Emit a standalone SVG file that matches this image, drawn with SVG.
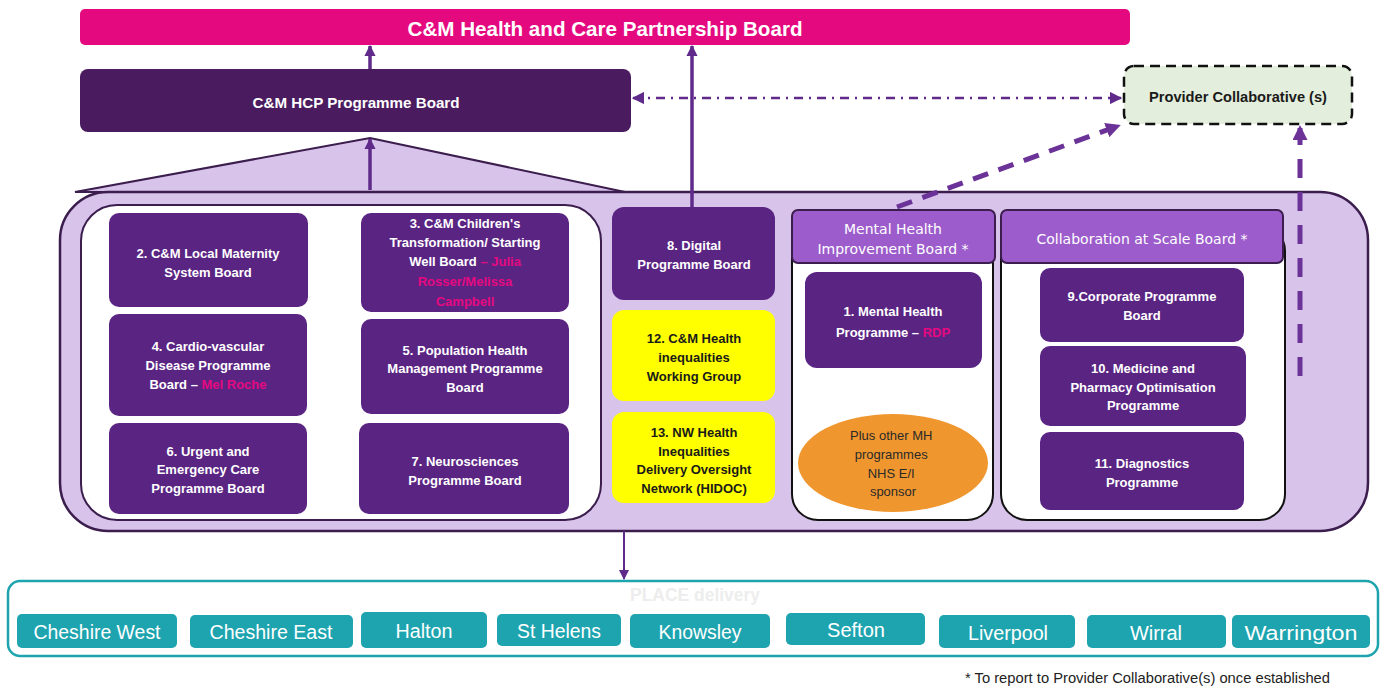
<svg xmlns="http://www.w3.org/2000/svg" width="1386" height="687" viewBox="0 0 1386 687">
  <defs>
    <marker id="arr" viewBox="0 0 10 10" refX="9" refY="5" markerWidth="3.2" markerHeight="3.2" orient="auto-start-reverse" markerUnits="strokeWidth">
      <path d="M0,0 L10,5 L0,10 z" fill="#5F2A8A"/>
    </marker>
    <marker id="arrThin" viewBox="0 0 10 10" refX="9" refY="5" markerWidth="5" markerHeight="5" orient="auto-start-reverse" markerUnits="strokeWidth">
      <path d="M0,0 L10,5 L0,10 z" fill="#5F2A8A"/>
    </marker>
    <marker id="arrBig" viewBox="0 0 10 10" refX="8" refY="5" markerWidth="3" markerHeight="3" orient="auto" markerUnits="strokeWidth">
      <path d="M0,0 L10,5 L0,10 z" fill="#6B3398"/>
    </marker>
    <style>
      .sans { font-family: "Liberation Sans", Arial, sans-serif; }
      .prog { fill: #5A2483; }
      .yel { fill: #FFFF00; }
      .bt { font-family: "Liberation Sans", Arial, sans-serif; font-weight: bold; font-size: 13px; fill: #FFFFFF; text-anchor: middle; }
      .btd { font-family: "Liberation Sans", Arial, sans-serif; font-weight: bold; font-size: 13px; fill: #1A1A1A; text-anchor: middle; }
      .pk { fill: #E5097F; }
      .hdr { fill: #9C5CCB; stroke: #3B1D4E; stroke-width: 2; }
      .ht { font-family: "DejaVu Sans", Verdana, sans-serif; font-size: 14px; fill: #FFFFFF; text-anchor: middle; }
      .teal { fill: #1EA4AF; }
      .tt { font-family: "Liberation Sans", Arial, sans-serif; font-size: 20px; fill: #FFFFFF; text-anchor: middle; }
      .conn { stroke: #5F2A8A; fill: none; }
    </style>
  </defs>

  <!-- top partnership board -->
  <g id="partnership-board">
    <rect x="80" y="9" width="1050" height="36" rx="5" fill="#E5097F"/>
    <text class="sans" x="605" y="36" font-size="21" font-weight="bold" fill="#FFFFFF" text-anchor="middle" textLength="395" lengthAdjust="spacingAndGlyphs">C&amp;M Health and Care Partnership Board</text>
  </g>

  <!-- programme board -->
  <g id="hcp-programme-board">
    <rect x="80" y="69" width="551" height="63" rx="8" fill="#4A1B5E"/>
    <text class="sans" x="356" y="108" font-size="14" font-weight="bold" fill="#FFFFFF" text-anchor="middle" textLength="207" lengthAdjust="spacingAndGlyphs">C&amp;M HCP Programme Board</text>
  </g>

  <!-- provider collaborative -->
  <g id="provider-collaborative">
    <rect x="1124" y="66" width="228" height="58" rx="10" fill="#E3EEDC" stroke="#111111" stroke-width="2.5" stroke-dasharray="10 6"/>
    <text class="sans" x="1238" y="102" font-size="14" font-weight="bold" fill="#1A1A1A" text-anchor="middle" textLength="178" lengthAdjust="spacingAndGlyphs">Provider Collaborative (s)</text>
  </g>

  <!-- programme portfolio container -->
  <g id="portfolio">
    <polygon points="75,192 370,138 625,192" fill="#D8C3EA" stroke="#3B1D4E" stroke-width="2"/>
    <rect x="60" y="192" width="1308" height="339" rx="48" fill="#D8C3EA" stroke="#3B1D4E" stroke-width="2.5"/>
    <rect x="81" y="205" width="520" height="315" rx="36" fill="#FFFFFF" stroke="#3B1D4E" stroke-width="2"/>
  </g>

  <g id="board-2">
    <rect class="prog" x="109" y="213" width="199" height="94" rx="10"/>
    <text class="bt" x="208" y="258">2. C&amp;M Local Maternity</text>
    <text class="bt" x="208" y="277">System Board</text>
  </g>
  <g id="board-3">
    <rect class="prog" x="361" y="213" width="208" height="99" rx="10"/>
    <text class="bt" x="465" y="228">3. C&amp;M Children's</text>
    <text class="bt" x="465" y="247">Transformation/ Starting</text>
    <text class="bt" x="465" y="266">Well Board <tspan class="pk">– Julia</tspan></text>
    <text class="bt pk" x="465" y="286">Rosser/Melissa</text>
    <text class="bt pk" x="465" y="306">Campbell</text>
  </g>
  <g id="board-4">
    <rect class="prog" x="109" y="314" width="198" height="102" rx="10"/>
    <text class="bt" x="208" y="351">4. Cardio-vascular</text>
    <text class="bt" x="208" y="370">Disease Programme</text>
    <text class="bt" x="208" y="389">Board – <tspan class="pk">Mel Roche</tspan></text>
  </g>
  <g id="board-5">
    <rect class="prog" x="361" y="319" width="208" height="95" rx="10"/>
    <text class="bt" x="465" y="355">5. Population Health</text>
    <text class="bt" x="465" y="373">Management Programme</text>
    <text class="bt" x="465" y="392">Board</text>
  </g>
  <g id="board-6">
    <rect class="prog" x="109" y="423" width="198" height="91" rx="10"/>
    <text class="bt" x="208" y="456">6. Urgent and</text>
    <text class="bt" x="208" y="474">Emergency Care</text>
    <text class="bt" x="208" y="493">Programme Board</text>
  </g>
  <g id="board-7">
    <rect class="prog" x="359" y="423" width="210" height="91" rx="10"/>
    <text class="bt" x="465" y="466">7. Neurosciences</text>
    <text class="bt" x="465" y="485">Programme Board</text>
  </g>

  <g id="board-8">
    <rect class="prog" x="612" y="207" width="163" height="93" rx="12"/>
    <text class="bt" x="694" y="250">8. Digital</text>
    <text class="bt" x="694" y="269">Programme Board</text>
  </g>
  <g id="group-12">
    <rect class="yel" x="612" y="310" width="163" height="91" rx="12"/>
    <text class="btd" x="694" y="343">12. C&amp;M Health</text>
    <text class="btd" x="694" y="362">inequalities</text>
    <text class="btd" x="694" y="381">Working Group</text>
  </g>
  <g id="network-13">
    <rect class="yel" x="612" y="412" width="163" height="91" rx="12"/>
    <text class="btd" x="694" y="437">13. NW Health</text>
    <text class="btd" x="694" y="456">Inequalities</text>
    <text class="btd" x="694" y="474">Delivery Oversight</text>
    <text class="btd" x="694" y="493">Network (HIDOC)</text>
  </g>

  <!-- mental health improvement board -->
  <g id="mental-health-board">
    <rect x="792" y="225" width="201" height="295" rx="26" fill="#FFFFFF" stroke="#111111" stroke-width="2"/>
    <rect class="hdr" x="792" y="210" width="203" height="53" rx="6"/>
    <text class="ht" x="893" y="234">Mental Health</text>
    <text class="ht" x="893" y="254">Improvement Board *</text>
  </g>
  <g id="programme-1">
    <rect class="prog" x="805" y="272" width="177" height="96" rx="12"/>
    <text class="bt" x="893" y="316">1. Mental Health</text>
    <text class="bt" x="893" y="337">Programme – <tspan class="pk">RDP</tspan></text>
  </g>
  <g id="other-mh-programmes">
    <ellipse cx="893" cy="463" rx="95" ry="49" fill="#F0962E"/>
    <text class="sans" font-size="13" fill="#2A2A2A" text-anchor="middle">
      <tspan x="893" y="440">Plus other MH</tspan>
      <tspan x="893" y="459">programmes</tspan>
      <tspan x="893" y="478">NHS E/I</tspan>
      <tspan x="893" y="496">sponsor</tspan>
    </text>
  </g>

  <!-- collaboration at scale board -->
  <g id="collaboration-board">
    <rect x="1001" y="225" width="284" height="295" rx="26" fill="#FFFFFF" stroke="#111111" stroke-width="2"/>
    <rect class="hdr" x="1001" y="210" width="282" height="53" rx="6"/>
    <text class="ht" x="1142" y="244">Collaboration at Scale Board *</text>
  </g>
  <g id="board-9">
    <rect class="prog" x="1040" y="268" width="204" height="74" rx="10"/>
    <text class="bt" x="1142" y="301">9.Corporate Programme</text>
    <text class="bt" x="1142" y="320">Board</text>
  </g>
  <g id="programme-10">
    <rect class="prog" x="1040" y="346" width="206" height="80" rx="10"/>
    <text class="bt" x="1143" y="373">10. Medicine and</text>
    <text class="bt" x="1143" y="392">Pharmacy Optimisation</text>
    <text class="bt" x="1143" y="410">Programme</text>
  </g>
  <g id="programme-11">
    <rect class="prog" x="1040" y="432" width="204" height="78" rx="10"/>
    <text class="bt" x="1142" y="468">11. Diagnostics</text>
    <text class="bt" x="1142" y="487">Programme</text>
  </g>

  <!-- place delivery -->
  <g id="place-delivery">
    <rect x="8" y="581" width="1370" height="75" rx="12" fill="#FFFFFF" stroke="#1EA4AF" stroke-width="2.5"/>
    <text class="sans" x="695" y="601" font-size="18" font-weight="bold" fill="#EDEDED" text-anchor="middle" textLength="130" lengthAdjust="spacingAndGlyphs">PLACE delivery</text>
  </g>
  <g id="place-cheshire-west"><rect class="teal" x="17" y="614" width="160" height="34" rx="5"/><text class="tt" x="97" y="639" textLength="127" lengthAdjust="spacingAndGlyphs">Cheshire West</text></g>
  <g id="place-cheshire-east"><rect class="teal" x="190" y="615" width="163" height="33" rx="5"/><text class="tt" x="271" y="639" textLength="123" lengthAdjust="spacingAndGlyphs">Cheshire East</text></g>
  <g id="place-halton"><rect class="teal" x="361" y="612" width="126" height="36" rx="5"/><text class="tt" x="424" y="638" textLength="57" lengthAdjust="spacingAndGlyphs">Halton</text></g>
  <g id="place-st-helens"><rect class="teal" x="497" y="614" width="124" height="32" rx="5"/><text class="tt" x="559" y="638" textLength="84" lengthAdjust="spacingAndGlyphs">St Helens</text></g>
  <g id="place-knowsley"><rect class="teal" x="630" y="614" width="140" height="34" rx="5"/><text class="tt" x="700" y="639" textLength="83" lengthAdjust="spacingAndGlyphs">Knowsley</text></g>
  <g id="place-sefton"><rect class="teal" x="786" y="613" width="139" height="32" rx="5"/><text class="tt" x="856" y="637" textLength="58" lengthAdjust="spacingAndGlyphs">Sefton</text></g>
  <g id="place-liverpool"><rect class="teal" x="939" y="615" width="136" height="33" rx="5"/><text class="tt" x="1008" y="640" textLength="80" lengthAdjust="spacingAndGlyphs">Liverpool</text></g>
  <g id="place-wirral"><rect class="teal" x="1087" y="615" width="139" height="33" rx="5"/><text class="tt" x="1156" y="640" textLength="52" lengthAdjust="spacingAndGlyphs">Wirral</text></g>
  <g id="place-warrington"><rect class="teal" x="1232" y="615" width="138" height="33" rx="5"/><text class="tt" x="1301" y="640" textLength="113" lengthAdjust="spacingAndGlyphs">Warrington</text></g>

  <text id="footnote" class="sans" x="965" y="683" font-size="14" fill="#222222" textLength="365" lengthAdjust="spacingAndGlyphs">* To report to Provider Collaborative(s) once established</text>

  <!-- connectors -->
  <g id="connectors">
    <line class="conn" x1="370" y1="69" x2="370" y2="46" stroke-width="3.5" marker-end="url(#arr)"/>
    <line class="conn" x1="370" y1="190" x2="370" y2="139" stroke-width="3.5" marker-end="url(#arr)"/>
    <line class="conn" x1="692" y1="207" x2="692" y2="46" stroke-width="3.5" marker-end="url(#arr)"/>
    <line class="conn" x1="633" y1="98" x2="1121" y2="98" stroke-width="2.5" stroke-dasharray="9 6 2 6" marker-start="url(#arrThin)" marker-end="url(#arrThin)"/>
    <line x1="897" y1="207" x2="1118" y2="126" stroke="#6B3398" stroke-width="5" stroke-dasharray="16 11" marker-end="url(#arrBig)"/>
    <line x1="1300" y1="376" x2="1300" y2="128" stroke="#6B3398" stroke-width="5" stroke-dasharray="19 14" marker-end="url(#arrBig)"/>
    <line class="conn" x1="624" y1="531" x2="624" y2="579" stroke-width="2" marker-end="url(#arrThin)"/>
  </g>
</svg>
